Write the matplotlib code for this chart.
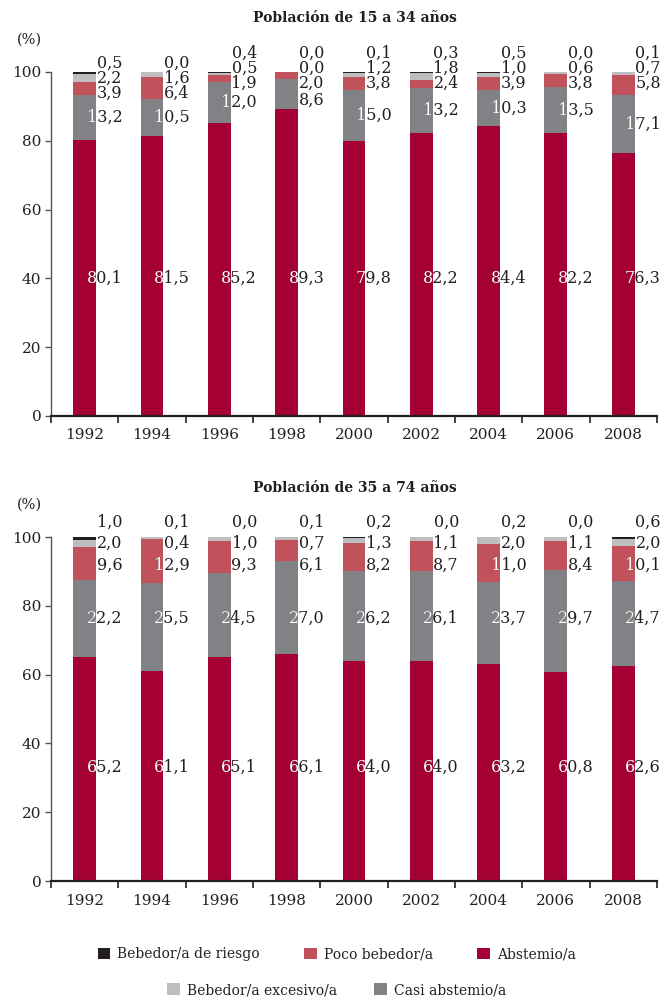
import matplotlib
matplotlib.use('Agg')
import matplotlib.pyplot as plt
from matplotlib.patches import Rectangle, Patch

plt.rcParams['font.family'] = ['DejaVu Serif']
plt.rcParams['text.color'] = '#231f20'

# data
years = ['1992', '1994', '1996', '1998', '2000', '2002', '2004', '2006', '2008']
series = ['Abstemio/a', 'Casi abstemio/a', 'Poco bebedor/a',
          'Bebedor/a excesivo/a', 'Bebedor/a de riesgo']
colors = ['#a50034', '#808285', '#c1515b', '#bcbec0', '#231f20']

# Población de 15 a 34 años
abst_15 = [80.1, 81.5, 85.2, 89.3, 79.8, 82.2, 84.4, 82.2, 76.3]
casi_15 = [13.2, 10.5, 12.0, 8.6, 15.0, 13.2, 10.3, 13.5, 17.1]
poco_15 = [3.9, 6.4, 1.9, 2.0, 3.8, 2.4, 3.9, 3.8, 5.8]
exce_15 = [2.2, 1.6, 0.5, 0.0, 1.2, 1.8, 1.0, 0.6, 0.7]
ries_15 = [0.5, 0.0, 0.4, 0.0, 0.1, 0.3, 0.5, 0.0, 0.1]

# Población de 35 a 74 años
abst_35 = [65.2, 61.1, 65.1, 66.1, 64.0, 64.0, 63.2, 60.8, 62.6]
casi_35 = [22.2, 25.5, 24.5, 27.0, 26.2, 26.1, 23.7, 29.7, 24.7]
poco_35 = [9.6, 12.9, 9.3, 6.1, 8.2, 8.7, 11.0, 8.4, 10.1]
exce_35 = [2.0, 0.4, 1.0, 0.7, 1.3, 1.1, 2.0, 1.1, 2.0]
ries_35 = [1.0, 0.1, 0.0, 0.1, 0.2, 0.0, 0.2, 0.0, 0.6]

FS = 11          # ticks
LFS = 11.5       # value labels
W = 0.34


def fmt(v):
    return f'{v:.1f}'.replace('.', ',')


def label(ax, x, y, v):
    txt = fmt(v)
    ax.text(x + 0.56, y, txt, ha='right', va='center', fontsize=LFS,
            color='#231f20')
    clip = Rectangle((x - W / 2, 0), W, 100, transform=ax.transData)
    t = ax.text(x + 0.56, y, txt, ha='right', va='center', fontsize=LFS,
                color='white', clip_on=True)
    t.set_clip_path(clip)


def panel(ax, data, label_rows):
    xs = list(range(len(years)))
    bottom = [0.0] * len(years)
    for vals, col in zip(data, colors):
        ax.bar(xs, vals, width=W, bottom=bottom, color=col, linewidth=0)
        bottom = [b + v for b, v in zip(bottom, vals)]
    for i in xs:
        rows = label_rows(i, [d[i] for d in data])
        for k, vals in enumerate(data):
            label(ax, i, rows[k], vals[i])

    ax.set_xlim(-0.5, len(years) - 0.5)
    ax.set_ylim(0, 100)
    ax.set_yticks([0, 20, 40, 60, 80, 100])
    ax.set_xticks(xs)
    ax.set_xticklabels(years)
    ax.set_xticks([i - 0.5 for i in range(len(years) + 1)], minor=True)
    ax.tick_params(axis='x', which='major', length=0, labelsize=FS, pad=9,
                   labelcolor='#231f20')
    ax.tick_params(axis='x', which='minor', length=5, width=1.2,
                   color='#231f20')
    ax.tick_params(axis='y', length=4, width=1, color='#555555',
                   labelsize=FS, labelcolor='#231f20', pad=3)
    for s in ['top', 'right']:
        ax.spines[s].set_visible(False)
    ax.spines['left'].set_color('#555555')
    ax.spines['left'].set_linewidth(1)
    ax.spines['bottom'].set_color('#231f20')
    ax.spines['bottom'].set_linewidth(1.6)
    ax.text(-0.035, 1.095, '(%)', transform=ax.transAxes, ha='center',
            va='center', fontsize=10.5)


shift_15 = [-2.9, -2.9, 0, 0, 0, 0, 0, 0, 0]


def rows_15(i, v):
    casi_mid = v[0] + v[1] / 2
    base = 96.8 + shift_15[i]
    return [40, min(casi_mid, 91.8), base, base + 4.2, base + 8.6]


def rows_35(i, v):
    return [33, 76.4, 91.9, 98.3, 104.4]


fig = plt.figure(figsize=(6.6, 9.98), dpi=100)
ax1 = fig.add_axes([0.0773, 0.5832, 0.918, 0.3447])
ax2 = fig.add_axes([0.0773, 0.1172, 0.918, 0.3447])

panel(ax1, [abst_15, casi_15, poco_15, exce_15, ries_15], rows_15)
panel(ax2, [abst_35, casi_35, poco_35, exce_35, ries_35], rows_35)

fig.text(0.538, 0.982, 'Población de 15 a 34 años', ha='center', va='center',
         fontsize=10, fontweight='bold')
fig.text(0.538, 0.511, 'Población de 35 a 74 años', ha='center', va='center',
         fontsize=10, fontweight='bold')

handles = {s: Patch(facecolor=c, edgecolor='none') for s, c in zip(series, colors)}
row1 = ['Bebedor/a de riesgo', 'Poco bebedor/a', 'Abstemio/a']
row2 = ['Bebedor/a excesivo/a', 'Casi abstemio/a']
common = dict(frameon=False, fontsize=10, handlelength=0.9, handleheight=0.9,
              handletextpad=0.5, borderpad=0, loc='center')
fig.legend([handles[s] for s in row1], row1, ncol=3, columnspacing=3.2,
           bbox_to_anchor=(0.51, 0.044), **common)
fig.legend([handles[s] for s in row2], row2, ncol=2, columnspacing=2.7,
           bbox_to_anchor=(0.51, 0.008), **common)

fig.savefig('out.png', dpi=100)
